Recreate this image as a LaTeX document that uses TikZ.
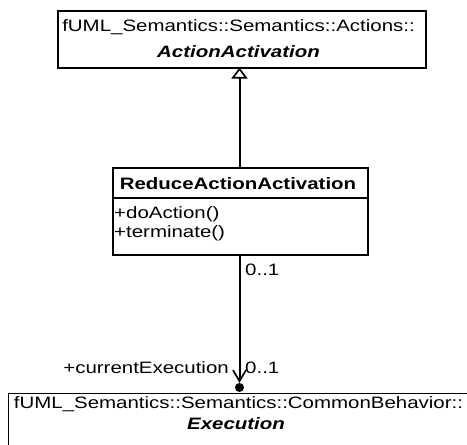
\documentclass[tikz,border=0pt]{standalone}
\usepackage{fontspec}
\setmainfont[FakeStretch=1.24]{Liberation Sans}
\usetikzlibrary{arrows.meta}
\tikzset{
  umlbox/.style={draw, line width=1.7pt, inner sep=0pt, rectangle},
  txt/.style={inner sep=0pt, font=\fontsize{16.5}{18}\selectfont},
  conn/.style={line width=2pt},
}
\begin{document}
\begin{tikzpicture}[x=1pt,y=-1pt]
\useasboundingbox (0,0) rectangle (467,445);
% top class
\node[umlbox, minimum width=368pt, minimum height=57pt, anchor=north west] (act) at (57,10) {};
\node[txt, anchor=base] (actns) at (238.5,31) {fUML\_Semantics::Semantics::Actions::};
\node[txt, anchor=base, font=\fontsize{16.5}{18}\selectfont\bfseries\itshape] (actname) at (238.5,57) {ActionActivation};
% middle class
\node[umlbox, minimum width=255pt, minimum height=87pt, anchor=north west] (red) at (112,167) {};
\draw[line width=1.7pt] (112,198) -- (367,198);
\node[txt, anchor=base, font=\fontsize{16.5}{18}\selectfont\bfseries] (redname) at (238,189) {ReduceActionActivation};
\node[txt, anchor=base west] (op1) at (114,218) {+doAction()};
\node[txt, anchor=base west] (op2) at (114,237) {+terminate()};
% bottom class
\node[umlbox, minimum width=459pt, minimum height=80pt, anchor=north west] (exec) at (7.5,392.5) {};
\node[txt, anchor=base] (execns) at (238.5,408) {fUML\_Semantics::Semantics::CommonBehavior::};
\node[txt, anchor=base, font=\fontsize{16.5}{18}\selectfont\bfseries\itshape] (execname) at (236,429) {Execution};
% generalization
\coordinate (gtop) at (239.5,67.5);
\coordinate (gbot) at (239.5,167);
\draw[conn, -{Triangle[open, width=16pt, length=11pt, line width=1.7pt]}] (gbot) -- (gtop);
% association
\node[circle, fill=black, inner sep=0pt, minimum size=9pt] (dot) at (239.5,387.5) {};
\coordinate (abot) at (239.5,254);
\draw[conn, -{Straight Barb[length=11pt, width=13pt, line width=1.7pt]}] (abot) -- (dot.north);
\node[txt, anchor=base west] (m1) at (245,275) {0..1};
\node[txt, anchor=base east] (role) at (229,373) {+currentExecution};
\node[txt, anchor=base west] (m2) at (245,373) {0..1};
\end{tikzpicture}
\end{document}
